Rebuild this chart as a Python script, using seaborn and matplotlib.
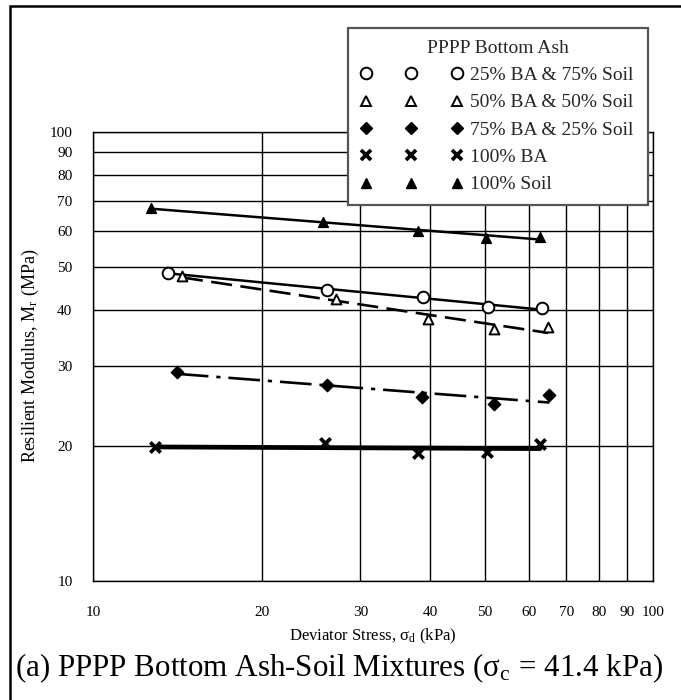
import numpy as np
import pandas as pd
import matplotlib
matplotlib.use("Agg")
import matplotlib.pyplot as plt
import seaborn as sns
from matplotlib.lines import Line2D
from matplotlib.patches import Rectangle
from matplotlib.ticker import FixedLocator, FixedFormatter, NullLocator

# ---------------- data ----------------
series_labels = ["25% BA & 75% Soil", "50% BA & 50% Soil", "75% BA & 25% Soil",
                 "100% BA", "100% Soil"]
stress_25 = [13.6, 26.2, 38.9, 50.8, 63.3]
mr_25 = [48.5, 44.4, 42.9, 40.8, 40.4]
stress_50 = [14.4, 27.1, 39.6, 51.9, 65.0]
mr_50 = [47.7, 42.3, 38.3, 36.3, 36.8]
stress_75 = [14.1, 26.2, 38.6, 51.9, 65.3]
mr_75 = [29.2, 27.3, 25.6, 24.8, 25.9]
stress_ba = [12.9, 25.9, 38.1, 50.5, 62.8]
mr_ba = [19.8, 20.3, 19.2, 19.3, 20.2]
stress_soil = [12.7, 25.7, 38.1, 50.3, 62.8]
mr_soil = [67.5, 63.0, 60.2, 57.9, 58.4]
tick_values = [10, 20, 30, 40, 50, 60, 70, 80, 90, 100]
tick_labels = ["10", "20", "30", "40", "50", "60", "70", "80", "90", "100"]

sns.set_theme(style="white")
plt.rcParams["font.family"] = ["Liberation Serif", "DejaVu Serif"]
plt.rcParams["mathtext.fontset"] = "stix"

fig = plt.figure(figsize=(6.81, 7.0), dpi=100)
fig.patch.set_facecolor("white")
W, H = 681.0, 700.0
ax = fig.add_axes([93.3 / W, 1 - 580.7 / H, (653 - 93.3) / W, (580.7 - 131.7) / H])
ax.set_facecolor("white")

ax.set_xscale("log")
ax.set_yscale("log")
ax.set_xlim(10, 100)
ax.set_ylim(10, 100)

styles = [
    dict(x=stress_25, y=mr_25, marker="o", fc="white", ec="black", ms=70, mew=1.4,
         ls="-", lw=1.8),
    dict(x=stress_50, y=mr_50, marker="^", fc="white", ec="black", ms=50, mew=1.4,
         ls=(0, (8, 3.2)), lw=1.9),
    dict(x=stress_75, y=mr_75, marker="D", fc="black", ec="black", ms=40, mew=1.0,
         ls=(0, (12, 3, 1.6, 3)), lw=1.9),
    dict(x=stress_ba, y=mr_ba, marker="x", fc="black", ec="black", ms=55, mew=2.7,
         ls="-", lw=3.4),
    dict(x=stress_soil, y=mr_soil, marker="^", fc="black", ec="black", ms=50, mew=1.0,
         ls="-", lw=1.8),
]

handles = []
for lab, st in zip(series_labels, styles):
    x = np.array(st["x"], dtype=float)
    y = np.array(st["y"], dtype=float)
    # power trendline (straight in log-log)
    b, a = np.polyfit(np.log10(x), np.log10(y), 1)
    xf = np.array([x.min(), x.max()])
    yf = 10 ** (a + b * np.log10(xf))
    sns.lineplot(x=xf, y=yf, ax=ax, color="black", lw=st["lw"], linestyle=st["ls"],
                 zorder=3, legend=False)
    df = pd.DataFrame({"Stress": x, "Mr": y})
    if st["marker"] == "x":
        sns.scatterplot(data=df, x="Stress", y="Mr", ax=ax, marker="x", s=st["ms"],
                        color="black", linewidths=st["mew"], zorder=4, legend=False)
    else:
        sns.scatterplot(data=df, x="Stress", y="Mr", ax=ax, marker=st["marker"],
                        s=st["ms"], facecolor=st["fc"], edgecolor=st["ec"],
                        linewidth=st["mew"], zorder=4, legend=False)
    handles.append(Line2D([], [], ls="none", marker=st["marker"],
                          markersize=np.sqrt(st["ms"]), markerfacecolor=st["fc"],
                          markeredgecolor=st["ec"], markeredgewidth=st["mew"],
                          color="black"))

ax.xaxis.set_major_locator(FixedLocator(tick_values))
ax.xaxis.set_major_formatter(FixedFormatter(tick_labels))
ax.yaxis.set_major_locator(FixedLocator(tick_values))
ax.yaxis.set_major_formatter(FixedFormatter(tick_labels))
ax.xaxis.set_minor_locator(NullLocator())
ax.yaxis.set_minor_locator(NullLocator())
ax.grid(True, which="major", color="black", lw=1.0)
for sp in ax.spines.values():
    sp.set_color("black")
    sp.set_linewidth(1.0)
ax.tick_params(axis="both", which="major", direction="out", length=8, width=1.0,
               color="black", labelsize=11, labelcolor="black")
ax.tick_params(axis="x", pad=10)
ax.tick_params(axis="y", pad=7)

ax.set_xlabel(r"Deviator Stress, σ$_\mathregular{d}$ (kPa)", fontsize=12, color="black")
ax.set_ylabel(r"Resilient Modulus, M$_\mathregular{r}$ (MPa)", fontsize=13, color="black")
ax.xaxis.set_label_coords(0.5, (580.7 - 627) / 449.0)
ax.yaxis.set_label_coords((41 - 93.3) / 559.7, 0.5)

leg = fig.legend(handles, series_labels, title="PPPP Bottom Ash",
                 loc="upper left",
                 bbox_to_anchor=(348 / W, 1 - 203 / H, 300 / W, 175 / H),
                 mode="expand", numpoints=3, handlelength=5.3, handletextpad=0.4,
                 labelspacing=0.5, fontsize=14, title_fontsize=14,
                 frameon=True, fancybox=False, framealpha=1.0, borderpad=0.6,
                 borderaxespad=0.0)
leg.get_frame().set_edgecolor("#555555")
leg.get_frame().set_linewidth(1.6)

fig.text(15 / W, 1 - 668 / H,
         r"(a) PPPP Bottom Ash-Soil Mixtures (σ$_\mathregular{c}$ = 41.4 kPa)",
         fontsize=22.3, ha="left", va="center", color="black")

fig.patches.append(Rectangle((10 / W, -0.2), 1.5, 1.2 - 6 / H, transform=fig.transFigure,
                             fill=False, edgecolor="black", lw=1.8, clip_on=False))

fig.savefig("out.png", dpi=100)
